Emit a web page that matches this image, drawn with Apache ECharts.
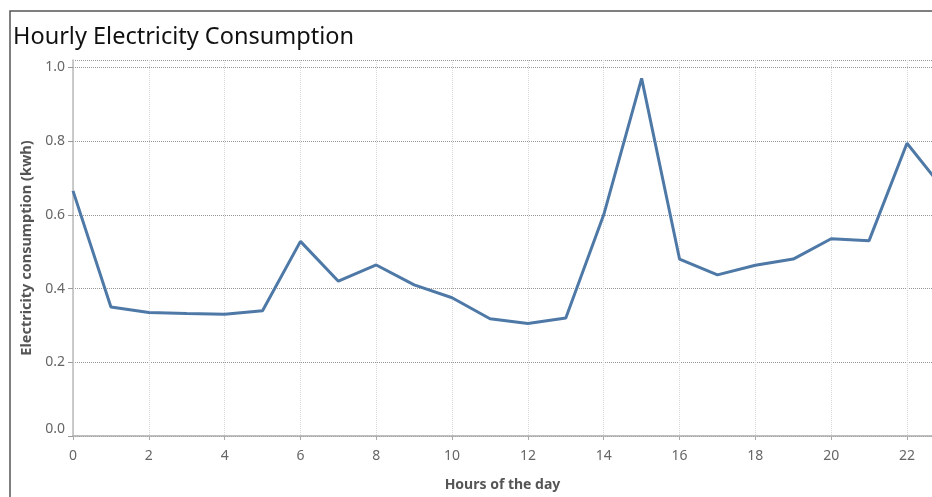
<!DOCTYPE html>
<html>
<head>
<meta charset="utf-8">
<script src="https://cdn.jsdelivr.net/npm/echarts@6/dist/echarts.min.js"></script>
<style>
  html, body { margin: 0; padding: 0; background: #fff; }
  #chart { width: 932px; height: 497px; }
</style>
</head>
<body>
<div id="chart"></div>
<script>
const hours = [0, 1, 2, 3, 4, 5, 6, 7, 8, 9, 10, 11, 12, 13, 14, 15, 16, 17, 18, 19, 20, 21, 22, 23];
const consumption = [0.665, 0.35, 0.335, 0.332, 0.33, 0.34, 0.528, 0.42, 0.464, 0.41, 0.375, 0.318,
  0.305, 0.32, 0.6, 0.97, 0.48, 0.437, 0.463, 0.48, 0.535, 0.53, 0.794, 0.665];

const chart = echarts.init(document.getElementById("chart"));
chart.setOption({
  animation: false,
  textStyle: { fontFamily: "Noto Sans" },
  title: {
    text: "Hourly Electricity Consumption",
    left: 8,
    top: 20,
    textStyle: { fontSize: 23.5, fontWeight: "normal", color: "#111", fontFamily: "Noto Sans" }
  },
  graphic: [
    {
      type: "polyline",
      shape: { points: [[940, 11], [10, 11], [10, 510]] },
      style: { stroke: "#555", lineWidth: 1.5, fill: null }
    }
  ],
  grid: { left: 73, right: 0, top: 60, bottom: 53, containLabel: false },
  xAxis: {
    type: "value",
    min: 0,
    max: 22.66,
    interval: 2,
    name: "Hours of the day",
    nameLocation: "middle",
    nameGap: 42,
    nameTextStyle: { fontSize: 14, fontWeight: "bold", color: "#555" },
    axisLine: { show: true, lineStyle: { color: "#aaa", width: 1.5 } },
    axisTick: { show: true, length: 4, lineStyle: { color: "#aaa" } },
    axisLabel: { fontSize: 14, color: "#666", margin: 13 },
    splitLine: { show: true, lineStyle: { color: "#d8d8d8", type: "dotted", width: 1 } }
  },
  yAxis: {
    type: "value",
    min: 0,
    max: 1.02,
    interval: 0.2,
    name: "Electricity consumption (kwh)",
    nameLocation: "middle",
    nameGap: 39,
    nameTextStyle: { fontSize: 14.5, fontWeight: "bold", color: "#555" },
    axisLine: { show: true, lineStyle: { color: "#bbb", width: 1.5 } },
    axisTick: { show: true, length: 5, lineStyle: { color: "#999" } },
    axisLabel: {
      fontSize: 14,
      color: "#666",
      margin: 8,
      verticalAlignMinLabel: "bottom",
      formatter: function (v) { return v.toFixed(1); }
    },
    splitLine: { show: true, lineStyle: { color: "#999", type: "dotted", width: 1 } }
  },
  series: [
    {
      type: "line",
      data: hours.map(function (h, i) { return [h, consumption[i]]; }),
      showSymbol: false,
      clip: true,
      lineStyle: { color: "#4e79a7", width: 3 },
      itemStyle: { color: "#4e79a7" }
    }
  ]
});
</script>
</body>
</html>
